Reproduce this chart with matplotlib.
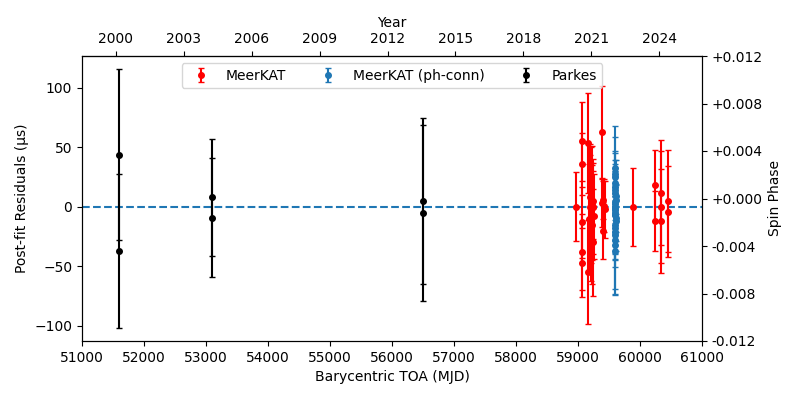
import numpy as np
import matplotlib
matplotlib.use("Agg")
import matplotlib.pyplot as plt
from matplotlib.ticker import FuncFormatter

# Parkes TOAs
pks_mjd = [51590, 51590, 53097, 53097, 56500, 56500]
pks_res = [44, -37, 8, -9, 5, -5]
pks_err = [72, 65, 49, 50, 70, 74]

# MeerKAT TOAs
mk_mjd = [58963, 59060, 59060, 59060, 59060, 59060, 59161, 59161,
          59185, 59190, 59200, 59205, 59210, 59215, 59220, 59230, 59235,
          59240, 59247, 59250, 59255,
          59387, 59395, 59400, 59410, 59420, 59430,
          59892, 60242, 60242, 60340, 60340, 60340, 60445, 60445]
mk_res = [0, 55, 36, -13, -38, -47, 54, -55,
          -10, 0, 8, -22, -5, 12, 3, -15, -30,
          0, 0, 5, -8,
          63, 3, -20, 6, 1, -2,
          0, 18, -12, 12, 0, -12, 5, -4]
mk_err = [29, 33, 26, 30, 32, 29, 42, 44,
          46, 44, 45, 40, 42, 38, 48, 50, 45,
          40, 30, 32, 36,
          39, 20, 24, 16, 22, 24,
          33, 30, 25, 44, 47, 44, 43, 38]

# MeerKAT phase-connected TOAs
pc_mjd = [59598, 59599, 59600, 59601, 59602, 59603, 59604, 59605, 59606,
          59598, 59599, 59600, 59601, 59602, 59603, 59604, 59605, 59606,
          59598, 59599, 59600, 59601, 59602, 59603, 59604]
pc_res = [33, 28, 25, 20, 17, 14, 12, 9, 6, 4, 2, 0, -1, -3, -5, -7, -9,
          -12, -15, -18, -21, -24, -28, -32, -37]
pc_err = [35, 31, 14, 27, 9, 22, 18, 30, 12, 25, 16, 45, 10, 20, 35, 13,
          28, 17, 24, 11, 30, 20, 45, 37, 37]

year_ticks = [2000, 2003, 2006, 2009, 2012, 2015, 2018, 2021, 2024]


def mjd2yr(m):
    return 2000 + (np.asarray(m) - 51544.5) / 365.25


def yr2mjd(y):
    return (np.asarray(y) - 2000) * 365.25 + 51544.5


fig, ax = plt.subplots(figsize=(8, 4), dpi=100)
fig.subplots_adjust(left=0.1025, right=0.8775, top=0.86, bottom=0.1475)

ax.axhline(0, ls='--', color='C0', zorder=1)
ax.errorbar(mk_mjd, mk_res, yerr=mk_err, fmt='o', color='red', ms=4,
            capsize=2, label='MeerKAT')
ax.errorbar(pc_mjd, pc_res, yerr=pc_err, fmt='o', color='C0', ms=4,
            capsize=2, label='MeerKAT (ph-conn)')
ax.errorbar(pks_mjd, pks_res, yerr=pks_err, fmt='o', color='black', ms=4,
            capsize=2, label='Parkes')

ax.set_xlim(51000, 61000)
ax.set_xticks(np.arange(51000, 61001, 1000))
ax.set_xlabel('Barycentric TOA (MJD)')
ax.set_ylabel('Post-fit Residuals (μs)')
ax.legend(loc='upper center', ncol=3)

top = ax.secondary_xaxis('top', functions=(mjd2yr, yr2mjd))
top.set_xticks(year_ticks)
top.set_xlabel('Year')

ax2 = ax.twinx()
ax2.set_ylim(-0.012, 0.012)
ax2.set_yticks(np.arange(-0.012, 0.0121, 0.004))
ax2.yaxis.set_major_formatter(FuncFormatter(lambda v, p: f'{v:+.3f}'))
ax2.set_ylabel('Spin Phase')

fig.savefig('out.png', dpi=100)
